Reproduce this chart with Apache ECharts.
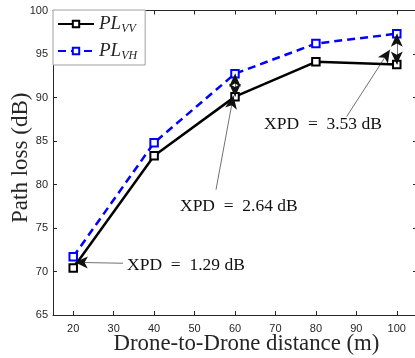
<!DOCTYPE html>
<html>
<head>
<meta charset="utf-8">
<script src="https://cdn.jsdelivr.net/npm/echarts@6/dist/echarts.min.js"></script>
<style>
  html, body { margin: 0; padding: 0; background: #fff; }
  #chart { width: 415px; height: 358px; }
</style>
</head>
<body>
<div id="chart"></div>
<script>
// Drone-to-drone separation (m)
const distances = [20, 40, 60, 80, 100];
// Measured path loss (dB) for co-polarised and cross-polarised links
const plVV = [70.40, 83.30, 90.10, 94.10, 93.80];
const plVH = [71.69, 84.80, 92.74, 96.20, 97.33];
// Tick values
const xTicks = [20, 30, 40, 50, 60, 70, 80, 90, 100];

// XPD callouts: text anchor, arrow start, arrow tip (all in data units)
const xpdNotes = [
  { text: 'XPD\u2002=\u20021.29 dB', at: [33.3, 70.75], from: [32.3, 70.95], to: [20.4, 71.05] },
  { text: 'XPD\u2002=\u20022.64 dB', at: [46.4, 77.5],  from: [55.3, 79.4],  to: [59.6, 90.2] },
  { text: 'XPD\u2002=\u20023.53 dB', at: [67.2, 86.95], from: [87.6, 87.8],  to: [98.3, 95.5] }
];
// Double-headed arrows spanning the VV-VH gap
const gapAt = [60, 100];

const ink = '#262626';
const serif = '"Liberation Serif", "DejaVu Serif", serif';
const sans = '"Liberation Sans", Arial, sans-serif';

const pairs = arr => distances.map((d, i) => [d, arr[i]]);

const arrowLines = xpdNotes.map(n => [
  { coord: n.from, symbol: 'none' },
  { coord: n.to, symbol: 'arrow' }
]).concat(gapAt.map(d => {
  const i = distances.indexOf(d);
  return [
    { coord: [d, plVV[i]], symbol: 'arrow' },
    { coord: [d, plVH[i]], symbol: 'arrow' }
  ];
}));

const noteLabels = xpdNotes.map(n => ({
  coord: n.at,
  value: n.text
}));

const chart = echarts.init(document.getElementById('chart'), null, { renderer: 'canvas' });

const baseAxis = {
  axisLine: { show: true, lineStyle: { color: ink, width: 1 } },
  axisTick: { show: true, inside: true, length: 4, lineStyle: { color: ink, width: 1 } },
  splitLine: { show: false }
};

chart.setOption({
  animation: false,
  backgroundColor: '#fff',
  grid: { left: 53, top: 10.5, right: -2, bottom: 43, containLabel: false, outerBoundsMode: 'none' },
  legend: {
    orient: 'vertical',
    left: 53,
    top: 10,
    padding: [3, 8, 3, 4],
    itemGap: 5,
    itemWidth: 36,
    itemHeight: 8,
    backgroundColor: '#fff',
    borderColor: '#a0a0a0',
    borderWidth: 1,
    borderRadius: 0,
    data: ['VV', 'VH'],
    formatter: name => '{a|PL}{b|' + name + '}',
    textStyle: {
      color: ink,
      lineHeight: 22,
      rich: {
        a: { fontFamily: serif, fontStyle: 'italic', fontSize: 19, color: ink },
        b: { fontFamily: serif, fontStyle: 'italic', fontSize: 12, color: ink, padding: [9, 0, 0, 0] }
      }
    }
  },
  xAxis: [
    Object.assign({}, baseAxis, {
      type: 'value', min: 15, max: 105,
      name: 'Drone-to-Drone distance (m)',
      nameLocation: 'middle', nameGap: 17.5, nameMoveOverlap: false,
      nameTextStyle: { fontFamily: serif, fontSize: 22.8, color: ink, padding: [0, 0, 0, 23] },
      axisTick: Object.assign({}, baseAxis.axisTick, { customValues: xTicks }),
      axisLabel: { customValues: xTicks, fontFamily: sans, fontSize: 11, color: ink, margin: 8 }
    }),
    Object.assign({}, baseAxis, {
      type: 'value', min: 15, max: 105, position: 'top',
      axisTick: Object.assign({}, baseAxis.axisTick, { customValues: xTicks }),
      axisLabel: { show: false }
    })
  ],
  yAxis: [
    Object.assign({}, baseAxis, {
      type: 'value', min: 65, max: 100, interval: 5,
      name: 'Path loss (dB)',
      nameLocation: 'middle', nameGap: 21, nameMoveOverlap: false,
      nameTextStyle: { fontFamily: serif, fontSize: 23, color: ink, padding: [0, 0, 0, 10] },
      axisLabel: { fontFamily: sans, fontSize: 11, color: ink, margin: 5 }
    }),
    Object.assign({}, baseAxis, {
      type: 'value', min: 65, max: 100, interval: 5, position: 'right',
      axisLabel: { show: false }
    })
  ],
  series: [
    {
      name: 'VV',
      type: 'line',
      data: pairs(plVV),
      symbol: 'rect',
      symbolSize: 7.5,
      z: 3,
      lineStyle: { color: '#000', width: 2.5, type: 'solid' },
      itemStyle: { color: '#fff', borderColor: '#000', borderWidth: 2 },
      markLine: {
        silent: true,
        animation: false,
        symbolSize: [9, 13],
        label: { show: false },
        lineStyle: { color: '#111', width: 0.6, type: 'solid', opacity: 1 },
        emphasis: { disabled: true },
        data: arrowLines
      },
      markPoint: {
        silent: true,
        symbol: 'circle',
        symbolSize: 1,
        itemStyle: { color: 'rgba(0,0,0,0)' },
        label: {
          show: true,
          position: 'inside',
          align: 'left',
          verticalAlign: 'middle',
          fontFamily: serif,
          fontSize: 17.5,
          color: '#111',
          formatter: p => p.value
        },
        data: noteLabels
      }
    },
    {
      name: 'VH',
      type: 'line',
      data: pairs(plVH),
      symbol: 'rect',
      symbolSize: 7.5,
      z: 2,
      lineStyle: { color: '#0000ff', width: 2.5, type: [8, 5] },
      itemStyle: { color: '#fff', borderColor: '#0000ff', borderWidth: 2 }
    }
  ]
});
</script>
</body>
</html>
